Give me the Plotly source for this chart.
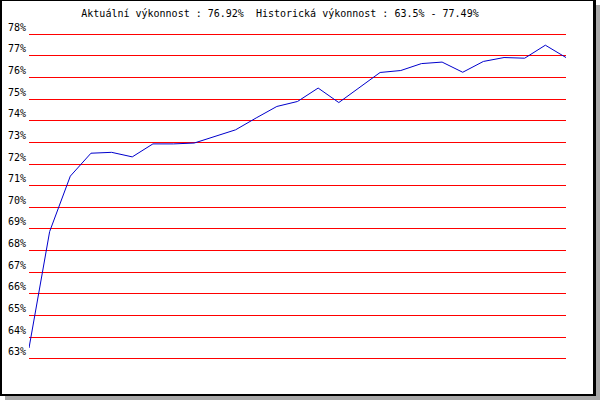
import plotly.graph_objects as go

# ---- data ----
periods = list(range(27))
performance = [63.50, 68.88, 71.44, 72.50, 72.54, 72.33, 72.93, 72.93, 72.97, 73.29,
               73.58, 74.13, 74.66, 74.89, 75.51, 74.84, 75.54, 76.23, 76.32, 76.64,
               76.71, 76.24, 76.74, 76.92, 76.89, 77.49, 76.92]
y_ticks = list(range(63, 79))
title_text = "Aktuální výkonnost : 76.92%  Historická výkonnost : 63.5% - 77.49%"

W, H = 600, 400
L, R, T, B = 29, 34, 32, 39
pw, ph = W - L - R, H - T - B

def px(x):
    return (x - L) / pw

def py(y):
    return (H - B - y) / ph

fig = go.Figure()
fig.add_trace(go.Scatter(
    x=periods, y=performance, mode="lines",
    line=dict(color="#0000cc", width=1), hoverinfo="skip", showlegend=False,
))

shapes = [
    dict(type="rect", xref="paper", yref="paper", x0=px(5), x1=px(600), y0=py(5), y1=py(400),
         fillcolor="#a8a8a8", line=dict(width=0), layer="below"),
    dict(type="rect", xref="paper", yref="paper", x0=px(0), x1=px(596), y0=py(0), y1=py(396),
         fillcolor="#000000", line=dict(width=0), layer="below"),
    dict(type="rect", xref="paper", yref="paper", x0=px(2), x1=px(593), y0=py(1), y1=py(394),
         fillcolor="#ffffff", line=dict(width=0), layer="below"),
]

fig.update_layout(
    width=W, height=H,
    margin=dict(l=L, r=R, t=T, b=B, pad=0, autoexpand=False),
    paper_bgcolor="white", plot_bgcolor="rgba(0,0,0,0)",
    shapes=shapes,
    hovermode=False,
    title=dict(text=title_text, x=280 / W, xanchor="center", xref="container",
               y=1 - 13 / H, yanchor="middle", yref="container", automargin=False,
               font=dict(family="DejaVu Sans Mono", size=10, color="black")),
    xaxis=dict(range=[0, 26], visible=False, showgrid=False, zeroline=False, automargin=False),
    yaxis=dict(range=[62.9, 78.1], tickmode="array", tickvals=y_ticks,
               ticktext=[f"{v}%" for v in y_ticks], automargin=False,
               showgrid=True, gridcolor="#ff0000", gridwidth=1, zeroline=False,
               showline=False, ticks="", ticklabelposition="outside top",
               ticklabelstandoff=2,
               tickfont=dict(family="DejaVu Sans Mono", size=10, color="black")),
)

fig.write_html("out.html", config={"displayModeBar": False},
               post_script="document.body.style.margin='0';")
